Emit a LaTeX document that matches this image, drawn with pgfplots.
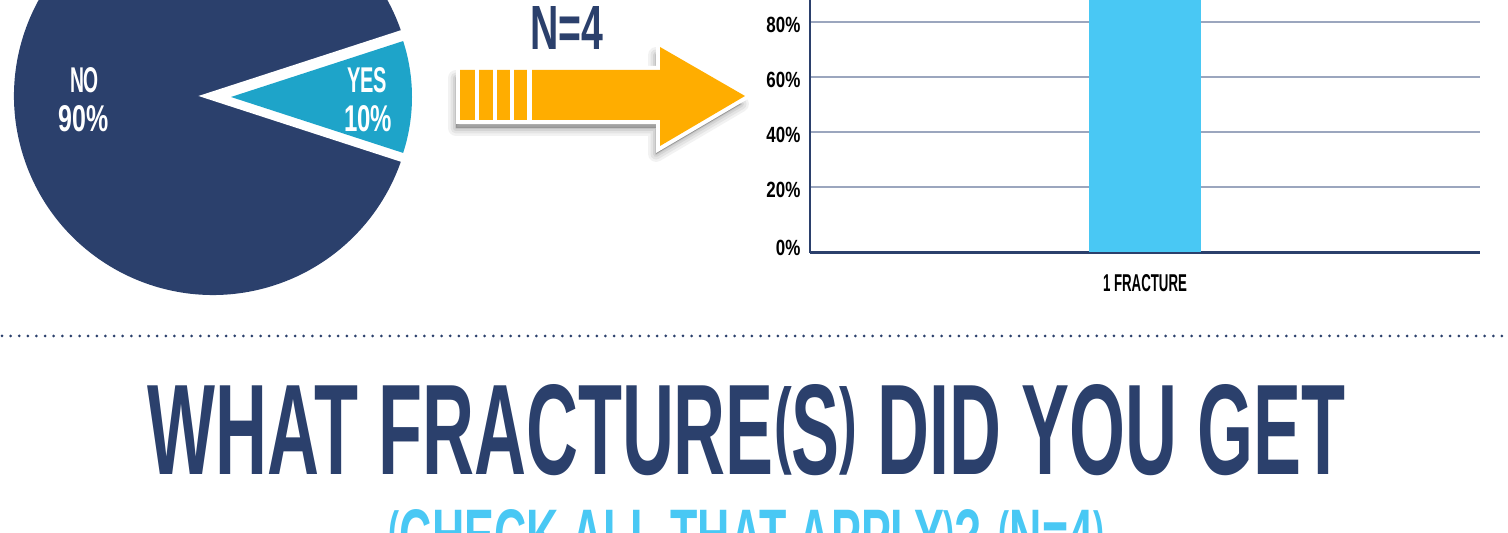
\documentclass[border=0pt]{standalone}
\usepackage{fontspec}
\usepackage{graphicx}
\usepackage{pgfplots}
\pgfplotsset{compat=1.18}
\newfontfamily\cond[FakeStretch=0.77]{Liberation Sans}
\definecolor{navy}{RGB}{43,64,108}
\definecolor{yesc}{RGB}{30,164,201}
\definecolor{barc}{RGB}{73,200,244}
\definecolor{orangec}{RGB}{255,173,0}
\definecolor{gridc}{RGB}{155,166,190}
\newcommand\fitt[3]{\resizebox{#1}{#2}{\cond\bfseries #3}}
% parentheses brought to cap height, sitting on the baseline (as in the display face)
\newcommand\pp[1]{\resizebox*{!}{\fontcharht\font`H}{\raisebox{\depth}{#1}}}
\def\pieyes{10}
\def\pieno{90}
\begin{document}
\begin{tikzpicture}
\path[use as bounding box] (0pt,0pt) rectangle (754pt,266.5pt);
\pgfmathsetmacro{\half}{\pieyes*3.6/2}
% ---------------- pie ----------------
\begin{axis}[at={(0pt,0pt)}, anchor=south west, x=0.5pt, y=0.5pt,
  xmin=0, xmax=1508, ymin=0, ymax=533, hide axis]
\fill[navy] (axis cs:213,437) -- ++(\half:99.5pt) arc[start angle=\half, end angle={360-\half}, radius=99.5pt] -- cycle;
\draw[white, line width=4.5pt] (axis cs:213,437) ++(\half:130pt) -- (axis cs:213,437) -- ++(-\half:130pt);
\fill[yesc] (axis cs:231,436) -- ++(\half:90.5pt) arc[start angle=\half, end angle={-\half}, radius=90.5pt] -- cycle;
\end{axis}
% ---------------- bar chart ----------------
\begin{axis}[at={(405pt,140pt)}, anchor=south west,
  scale only axis, width=335pt, height=148.6pt,
  xmin=-1, xmax=1, ymin=-4.1, ymax=104,
  axis x line*=bottom, axis y line*=left,
  x axis line style={navy, line width=1.5pt, -},
  y axis line style={navy, line width=1pt, -},
  ymajorgrids, major grid style={gridc, line width=1pt},
  major tick length=0pt,
  xtick={0}, xticklabels={\fitt{42pt}{8.5pt}{1 FRACTURE}},
  xticklabel style={anchor=base, yshift=-19.5pt},
  ytick={20,40,60,80}, yticklabels={20\%,40\%,60\%,80\%},
  extra y ticks={-1.2}, extra y tick labels={0\%},
  extra y tick style={ymajorgrids=false},
  yticklabel style={font=\cond\bfseries\fontsize{11}{11}\selectfont, anchor=east, xshift=-1.3pt, yshift=-1.5pt},
]
\addplot[fill=barc, draw=none] coordinates {(-0.167,-3.6) (0.167,-3.6) (0.167,100) (-0.167,100)};
\end{axis}
% ---------------- decorations in pixel units ----------------
\begin{scope}[x=0.5pt, y=-0.5pt, shift={(0pt,266.5pt)}]
\node[anchor=base, inner sep=0, text=white] at (84.5,93) {\fitt{14.5pt}{12.5pt}{NO}};
\node[anchor=base, inner sep=0, text=white] at (84,132) {\fitt{25pt}{13pt}{90\%}};
\node[anchor=base, inner sep=0, text=white] at (367,93) {\fitt{20pt}{12.5pt}{YES}};
\node[anchor=base, inner sep=0, text=white] at (368,132) {\fitt{24pt}{13pt}{10\%}};
% arrow shadow
\foreach \w/\o in {16/0.05,11/0.06,6/0.07,2/0.08}{
  \filldraw[black, opacity=\o, line width=\w*0.5pt, line join=round]
    (456,78) -- (656,78) -- (656,55) -- (741,104) -- (656,154) -- (656,128) -- (456,128) -- cycle;
}
\filldraw[white, line width=4pt, line join=miter]
  (460,70) -- (660,70) -- (660,47) -- (745,96) -- (660,146) -- (660,120) -- (460,120) -- cycle;
\fill[orangec] (460,70) -- (660,70) -- (660,47) -- (745,96) -- (660,146) -- (660,120) -- (460,120) -- cycle;
\foreach \a/\b in {475/478.5,493/496.5,510/513.5,527/532}{
  \fill[white] (\a,68) rectangle (\b,122);
}
\node[anchor=base, inner sep=0, text=navy] at (566.5,50) {\fitt{36.5pt}{21.5pt}{N=4}};
% dotted separator
\draw[navy, line width=1.5pt, line cap=round, dash pattern=on 0pt off 4.31pt] (2,336) -- (1508,336);
% titles
\node[anchor=base, inner sep=0, text=navy] at (746.5,475) {\fitt{598.5pt}{45pt}{WHAT FRACTURE\pp{(}S\pp{)} DID YOU GET}};
\node[anchor=base, inner sep=0, text=barc] at (746.5,562) {\fitt{357.5pt}{26pt}{\pp{(}CHECK ALL THAT APPLY\pp{)}? \pp{(}N=4\pp{)}}};
\end{scope}
\end{tikzpicture}
\end{document}
